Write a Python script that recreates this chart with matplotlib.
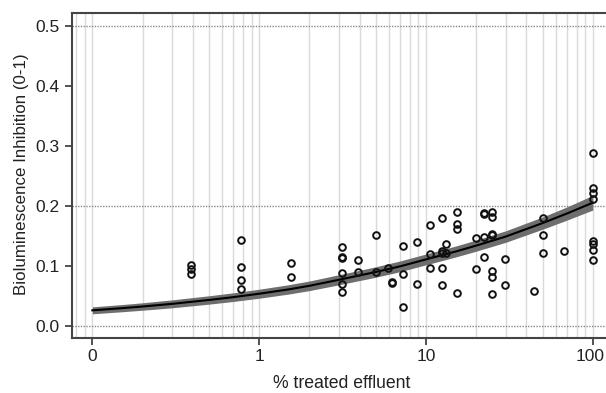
import matplotlib
matplotlib.use("Agg")
import matplotlib.pyplot as plt
import matplotlib.transforms as mtransforms
from matplotlib.ticker import FixedLocator, NullLocator

plt.rcParams['font.family'] = ['Liberation Sans', 'DejaVu Sans']

# observed data (% treated effluent, inhibition)
dose = [0.39, 0.39, 0.39,
        0.78, 0.78, 0.78, 0.78,
        1.56, 1.56,
        3.125, 3.125, 3.125, 3.125, 3.125, 3.125,
        3.9, 3.9,
        5.0, 5.0,
        5.9,
        6.25, 6.25,
        7.3, 7.3, 7.3,
        8.8, 8.8,
        10.6, 10.6, 10.6,
        12.5, 12.5, 12.5, 12.5, 12.5,
        13.2, 13.2,
        15.4, 15.4, 15.4, 15.4,
        20, 20,
        22.3, 22.3, 22.3, 22.3,
        25, 25, 25, 25, 25, 25, 25,
        29.7, 29.7,
        44.3,
        50, 50, 50,
        67,
        100, 100, 100, 100, 100, 100, 100, 100]
inhibition = [0.101, 0.094, 0.087,
              0.143, 0.098, 0.076, 0.061,
              0.104, 0.081,
              0.131, 0.115, 0.113, 0.088, 0.0695, 0.056,
              0.110, 0.090,
              0.151, 0.090,
              0.097,
              0.073, 0.071,
              0.133, 0.087, 0.032,
              0.139, 0.0695,
              0.168, 0.120, 0.097,
              0.1795, 0.1245, 0.121, 0.097, 0.068,
              0.137, 0.121,
              0.190, 0.170, 0.161, 0.0545,
              0.147, 0.095,
              0.188, 0.186, 0.148, 0.114,
              0.190, 0.182, 0.153, 0.151, 0.092, 0.082, 0.053,
              0.111, 0.068,
              0.058,
              0.180, 0.152, 0.122,
              0.125,
              0.288, 0.229, 0.222, 0.211, 0.141, 0.137, 0.127, 0.1095]

# fitted curve with confidence band
fit_x = [0.1, 0.15, 0.2, 0.3, 0.5, 0.7, 1, 1.5, 2, 3, 5, 7, 10, 15, 20, 30, 50, 70, 100]
fit_y = [0.0256, 0.0292, 0.0320, 0.0364, 0.0429, 0.0476, 0.0533, 0.0605, 0.0665,
         0.0765, 0.0895, 0.0990, 0.1105, 0.1235, 0.1335, 0.1485, 0.1710, 0.1870, 0.2050]
fit_hw = [0.0058, 0.006, 0.0062, 0.0066, 0.007, 0.0072, 0.0075, 0.0078, 0.008,
          0.0084, 0.0087, 0.0089, 0.009, 0.0091, 0.0093, 0.0096, 0.0102, 0.011, 0.0122]

xtick_vals = [0.1, 1, 10, 100]
xtick_labels = ["0", "1", "10", "100"]
ytick_vals = [0.0, 0.1, 0.2, 0.3, 0.4, 0.5]
ytick_labels = ["0.0", "0.1", "0.2", "0.3", "0.4", "0.5"]
ref_lines = [0.0, 0.2, 0.5]
grid_x = [0.08, 0.09] + [k * 10 ** e for e in (-1, 0, 1) for k in range(1, 10)] + [100]

fig = plt.figure(figsize=(6.06, 3.93), dpi=100)
ax = fig.add_axes([71.7 / 606, 1 - 337.7 / 393, (606 - 71.7) / 606, (337.7 - 13.3) / 393])
ax.set_xscale('log')
ax.set_xlim(0.0752, 120)
ax.set_ylim(-0.02, 0.5207)

for gx in grid_x:
    ax.axvline(gx, color='#dadada', lw=1.0, zorder=0)
for ry in ref_lines:
    ax.axhline(ry, color='#888888', lw=1.0, ls=(0, (1, 1)), zorder=1)

lo = [y - h for y, h in zip(fit_y, fit_hw)]
hi = [y + h for y, h in zip(fit_y, fit_hw)]
ax.fill_between(fit_x, lo, hi, color='#6e6e6e', lw=0, zorder=2)
ax.plot(fit_x, fit_y, color='black', lw=1.5, zorder=3)
ax.plot(dose, inhibition, ls='none', marker='o', markersize=4.8,
        markerfacecolor='none', markeredgecolor='#111111', markeredgewidth=1.4, zorder=4)

ax.xaxis.set_major_locator(FixedLocator(xtick_vals))
ax.xaxis.set_minor_locator(NullLocator())
ax.set_xticklabels(xtick_labels)
ax.set_yticks(ytick_vals)
ax.set_yticklabels(ytick_labels)
ax.tick_params(axis='both', direction='out', length=4.7, width=1.3, color='#444444',
               labelsize=12.5, labelcolor='#222222')
ax.tick_params(axis='x', pad=3.2)
ax.tick_params(axis='y', pad=4)

# keep the last x tick label inside the figure
last = ax.get_xticklabels()[-1]
last.set_transform(last.get_transform() +
                   mtransforms.ScaledTranslation(-3 / 100, 0, fig.dpi_scale_trans))

for side in ['left', 'bottom', 'top']:
    ax.spines[side].set_color('#444444')
    ax.spines[side].set_linewidth(1.5)
ax.spines['right'].set_visible(False)

fig.text(342 / 606, 1 - 392 / 393, '% treated effluent', fontsize=12.7, color='#222222',
         ha='center', va='bottom')
fig.text(22 / 606, 1 - 174.5 / 393, 'Bioluminescence Inhibition (0-1)', fontsize=12.2,
         color='#222222', ha='center', va='center', rotation=90)

fig.savefig('out.png', dpi=100)
